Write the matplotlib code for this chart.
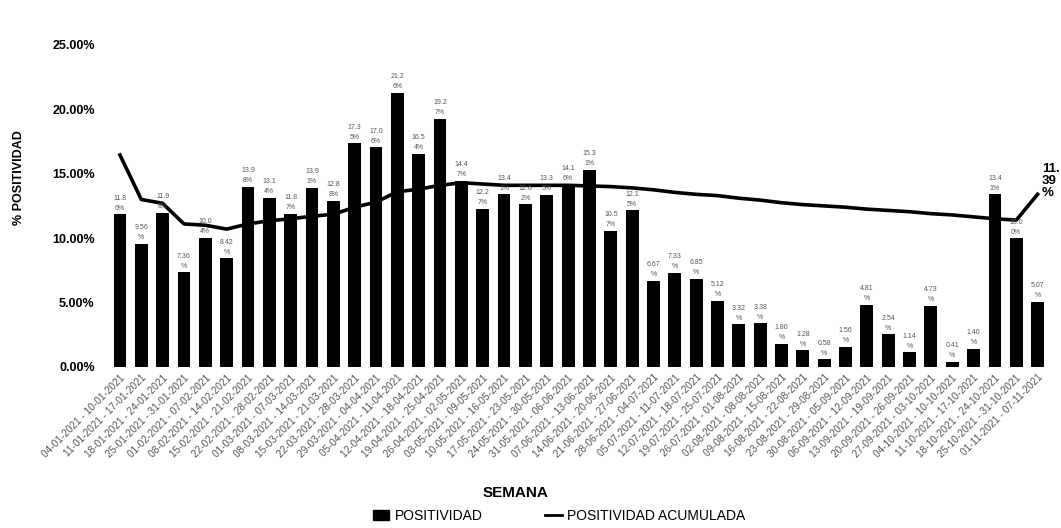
import numpy as np
import matplotlib.pyplot as plt
from matplotlib.patches import Patch
from matplotlib.lines import Line2D

# semanas (inicio - fin)
inicio = ["04-01-2021", "11-01-2021", "18-01-2021", "25-01-2021", "01-02-2021", "08-02-2021",
          "15-02-2021", "22-02-2021", "01-03-2021", "08-03-2021", "15-03-2021", "22-03-2021",
          "29-03-2021", "05-04-2021", "12-04-2021", "19-04-2021", "26-04-2021", "03-05-2021",
          "10-05-2021", "17-05-2021", "24-05-2021", "31-05-2021", "07-06-2021", "14-06-2021",
          "21-06-2021", "28-06-2021", "05-07-2021", "12-07-2021", "19-07-2021", "26-07-2021",
          "02-08-2021", "09-08-2021", "16-08-2021", "23-08-2021", "30-08-2021", "06-09-2021",
          "13-09-2021", "20-09-2021", "27-09-2021", "04-10-2021", "11-10-2021", "18-10-2021",
          "25-10-2021", "01-11-2021"]
fin = ["10-01-2021", "17-01-2021", "24-01-2021", "31-01-2021", "07-02-2021", "14-02-2021",
       "21-02-2021", "28-02-2021", "07-03-2021", "14-03-2021", "21-03-2021", "28-03-2021",
       "04-04-2021", "11-04-2021", "18-04-2021", "25-04-2021", "02-05-2021", "09-05-2021",
       "16-05-2021", "23-05-2021", "30-05-2021", "06-06-2021", "13-06-2021", "20-06-2021",
       "27-06-2021", "04-07-2021", "11-07-2021", "18-07-2021", "25-07-2021", "01-08-2021",
       "08-08-2021", "15-08-2021", "22-08-2021", "29-08-2021", "05-09-2021", "12-09-2021",
       "19-09-2021", "26-09-2021", "03-10-2021", "10-10-2021", "17-10-2021", "24-10-2021",
       "31-10-2021", "07-11-2021"]

# positividad semanal (%)
positividad = [11.86, 9.56, 11.98, 7.36, 10.04, 8.42, 13.98, 13.14, 11.87, 13.91, 12.88,
               17.35, 17.06, 21.26, 16.54, 19.27, 14.47, 12.27, 13.41, 12.62, 13.35, 14.16,
               15.31, 10.57, 12.15, 6.67, 7.33, 6.85, 5.12, 3.32, 3.38, 1.80, 1.28, 0.58,
               1.56, 4.81, 2.54, 1.14, 4.73, 0.41, 1.40, 13.41, 10.00, 5.07]

# positividad acumulada (%)
acumulada = [16.45, 13.0, 12.7, 11.1, 11.0, 10.7, 11.1, 11.35, 11.5, 11.7, 11.85, 12.4,
             12.8, 13.6, 13.8, 14.1, 14.3, 14.2, 14.1, 14.1, 14.1, 14.1, 14.05, 14.0, 13.9,
             13.75, 13.55, 13.4, 13.3, 13.1, 12.95, 12.75, 12.6, 12.5, 12.4, 12.25, 12.15,
             12.05, 11.9, 11.8, 11.65, 11.5, 11.4, 13.4]
etiqueta_final = "11.\n39\n%"

etiquetas = [f"{a} - {b}" for a, b in zip(inicio, fin)]
x = np.arange(len(positividad))
pos = np.array(positividad) / 100
acu = np.array(acumulada) / 100

plt.rcParams['font.family'] = ['Liberation Sans', 'DejaVu Sans']

fig = plt.figure(figsize=(10.61, 5.28), dpi=100)
ax = fig.add_axes([0.101, 0.305, 0.889, 0.61])

ax.bar(x, pos, width=0.6, color='black', zorder=2)
ax.plot(x, acu, color='black', lw=2.6, zorder=3)

for xi, v in zip(x, positividad):
    s = f"{v:.2f}%"
    ax.text(xi, v / 100 + 0.002, s[:4] + "\n" + s[4:], ha='center', va='bottom',
            fontsize=5, color='#555555', linespacing=1.6, zorder=4)

ax.text(x[-1] + 0.2, acu[-1] - 0.004, etiqueta_final, ha='left', va='bottom',
        fontsize=9.5, fontweight='bold', linespacing=1.0)

ax.set_xlim(-0.6, len(x) - 0.4)
ax.set_ylim(0, 0.25)
ax.set_yticks(np.arange(0, 0.2501, 0.05))
ax.set_yticklabels([f"{t * 100:.2f}%" for t in np.arange(0, 0.2501, 0.05)],
                   fontsize=9, fontweight='bold')
ax.set_xticks(x)
ax.set_xticklabels(etiquetas, rotation=45, ha='right', rotation_mode='anchor',
                   fontsize=7.2, color='#555555')
ax.tick_params(axis='both', length=0)
ax.tick_params(axis='y', pad=9)
ax.tick_params(axis='x', pad=4)
for sp in ax.spines.values():
    sp.set_visible(False)

fig.text(0.018, 1 - 178 / 528, "% POSITIVIDAD", rotation=90, ha='center', va='center',
         fontsize=9, fontweight='bold')
fig.text(0.486, 0.066, "SEMANA", ha='center', va='center', fontsize=11, fontweight='bold')

handles = [Patch(color='black'), Line2D([0], [0], color='black', lw=2)]
fig.legend(handles, ["POSITIVIDAD", "POSITIVIDAD ACUMULADA"], loc='center',
           bbox_to_anchor=(0.527, 0.023), ncol=2, frameon=False, fontsize=10,
           handlelength=1.2, columnspacing=4.5, handletextpad=0.4)

fig.savefig("out.png", dpi=100)
